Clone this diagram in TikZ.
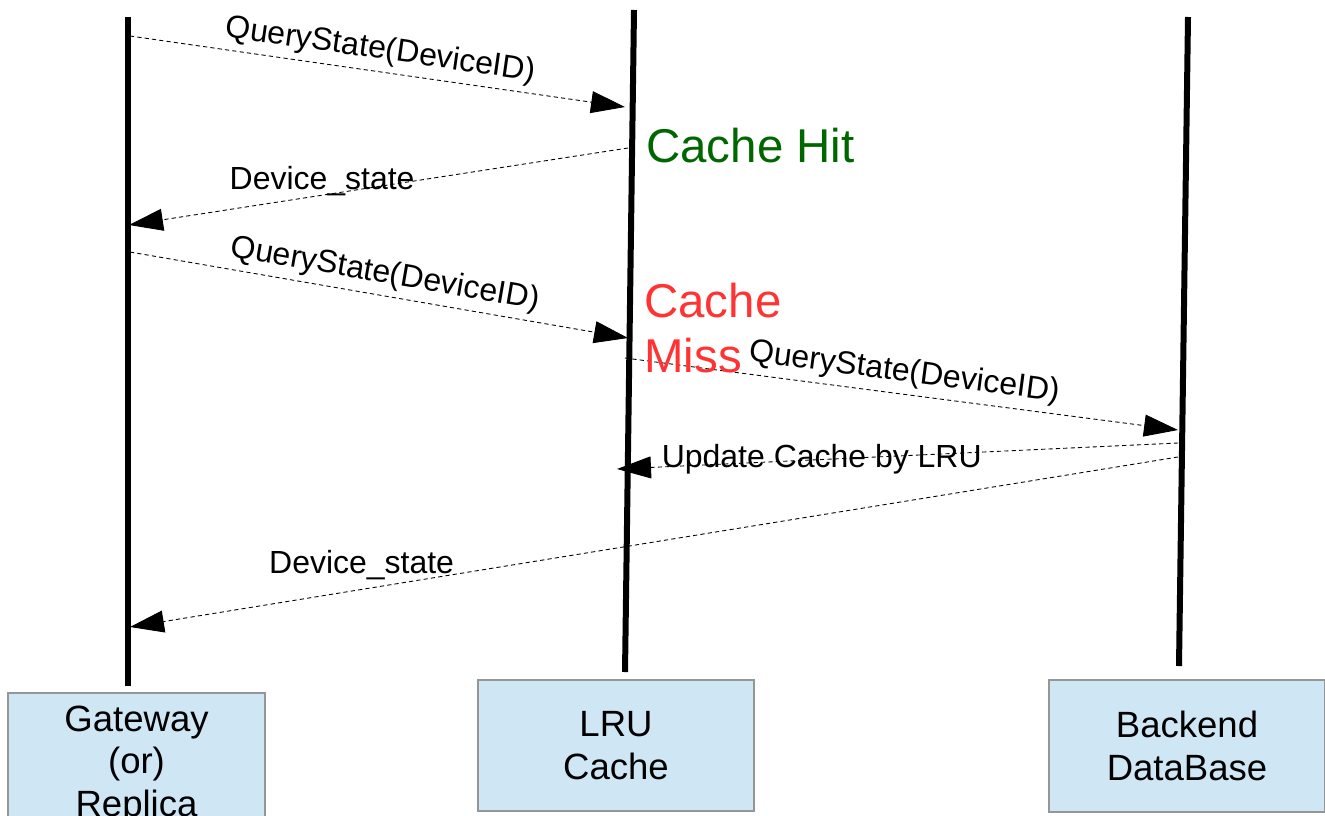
\documentclass[tikz,border=0pt]{standalone}
\usepackage{fontspec}
\setmainfont{Liberation Sans}
\definecolor{boxfill}{RGB}{207,231,245}
\definecolor{boxedge}{RGB}{150,150,150}
\definecolor{hit}{RGB}{0,102,0}
\definecolor{miss}{RGB}{255,51,51}
\usetikzlibrary{arrows.meta}
\tikzset{
  actor/.style={draw=boxedge, line width=0.7pt, fill=boxfill, align=center,
              inner sep=0pt, font=\fontsize{20.8}{24.4}\selectfont},
  lifeline/.style={line width=0.12cm, black},
  msg/.style={-{Triangle[length=0.68cm,width=0.44cm]}, line width=0.5pt,
              dash pattern=on 2.4pt off 1.8pt},
  msglbl/.style={font=\fontsize{18.2}{21.6}\selectfont},
  note/.style={font=\fontsize{27}{31.2}\selectfont, align=left, inner sep=0pt},
}
\begin{document}
\begin{tikzpicture}[x=0.02cm,y=-0.02cm]
  \useasboundingbox (0,0) rectangle (1325,815);
  % lifelines
  \coordinate (gwTop) at (128,17);   \coordinate (gwBot) at (128,686);
  \coordinate (lruTop) at (634,10);  \coordinate (lruBot) at (625,672);
  \coordinate (dbTop) at (1188,17);  \coordinate (dbBot) at (1179,666);
  \draw[lifeline] (gwTop) -- (gwBot);
  \draw[lifeline] (lruTop) -- (lruBot);
  \draw[lifeline] (dbTop) -- (dbBot);
  % actors
  \node[actor, minimum width=5.14cm, minimum height=2.88cm] (gw) at (136.5,765) {Gateway\\(or)\\Replica};
  \node[actor, minimum width=5.52cm, minimum height=2.62cm] (lru) at (616,745.5) {LRU\\Cache};
  \node[actor, minimum width=5.52cm, minimum height=2.64cm] (db) at (1187,746) {Backend\\DataBase};
  % message end points
  \coordinate (q1a) at (130,36);   \coordinate (q1b) at (625,107);
  \coordinate (r1a) at (628,148);  \coordinate (r1b) at (129,225);
  \coordinate (q2a) at (130,252);  \coordinate (q2b) at (628,338);
  \coordinate (q3a) at (625,358);  \coordinate (q3b) at (1178,430);
  \coordinate (u1a) at (1178,443); \coordinate (u1b) at (617,469);
  \coordinate (r2a) at (1178,457); \coordinate (r2b) at (130,627);
  % messages
  \draw[msg] (q1a) -- node[msglbl, sloped, above, pos=0.5] (lq1) {QueryState(DeviceID)} (q1b);
  \draw[msg] (r1a) -- node[msglbl, pos=0.613, yshift=0.28cm] (lr1) {Device\_state} (r1b);
  \draw[msg] (q2a) -- node[msglbl, sloped, above, pos=0.505] (lq2) {QueryState(DeviceID)} (q2b);
  \draw[msg] (q3a) -- node[msglbl, sloped, above, pos=0.5] (lq3) {QueryState(DeviceID)} (q3b);
  \draw[msg] (u1a) -- node[msglbl, pos=0.635, yshift=0.01cm] (lu1) {Update Cache by LRU} (u1b);
  \draw[msg] (r2a) -- node[msglbl, pos=0.779, yshift=0.48cm] (lr2) {Device\_state} (r2b);
  % cache notes
  \node[note, text=hit, anchor=base west] (hitlbl) at (646,162) {Cache Hit};
  \node[note, text=miss, anchor=west] (misslbl) at (644,328) {Cache\\Miss};
\end{tikzpicture}
\end{document}
